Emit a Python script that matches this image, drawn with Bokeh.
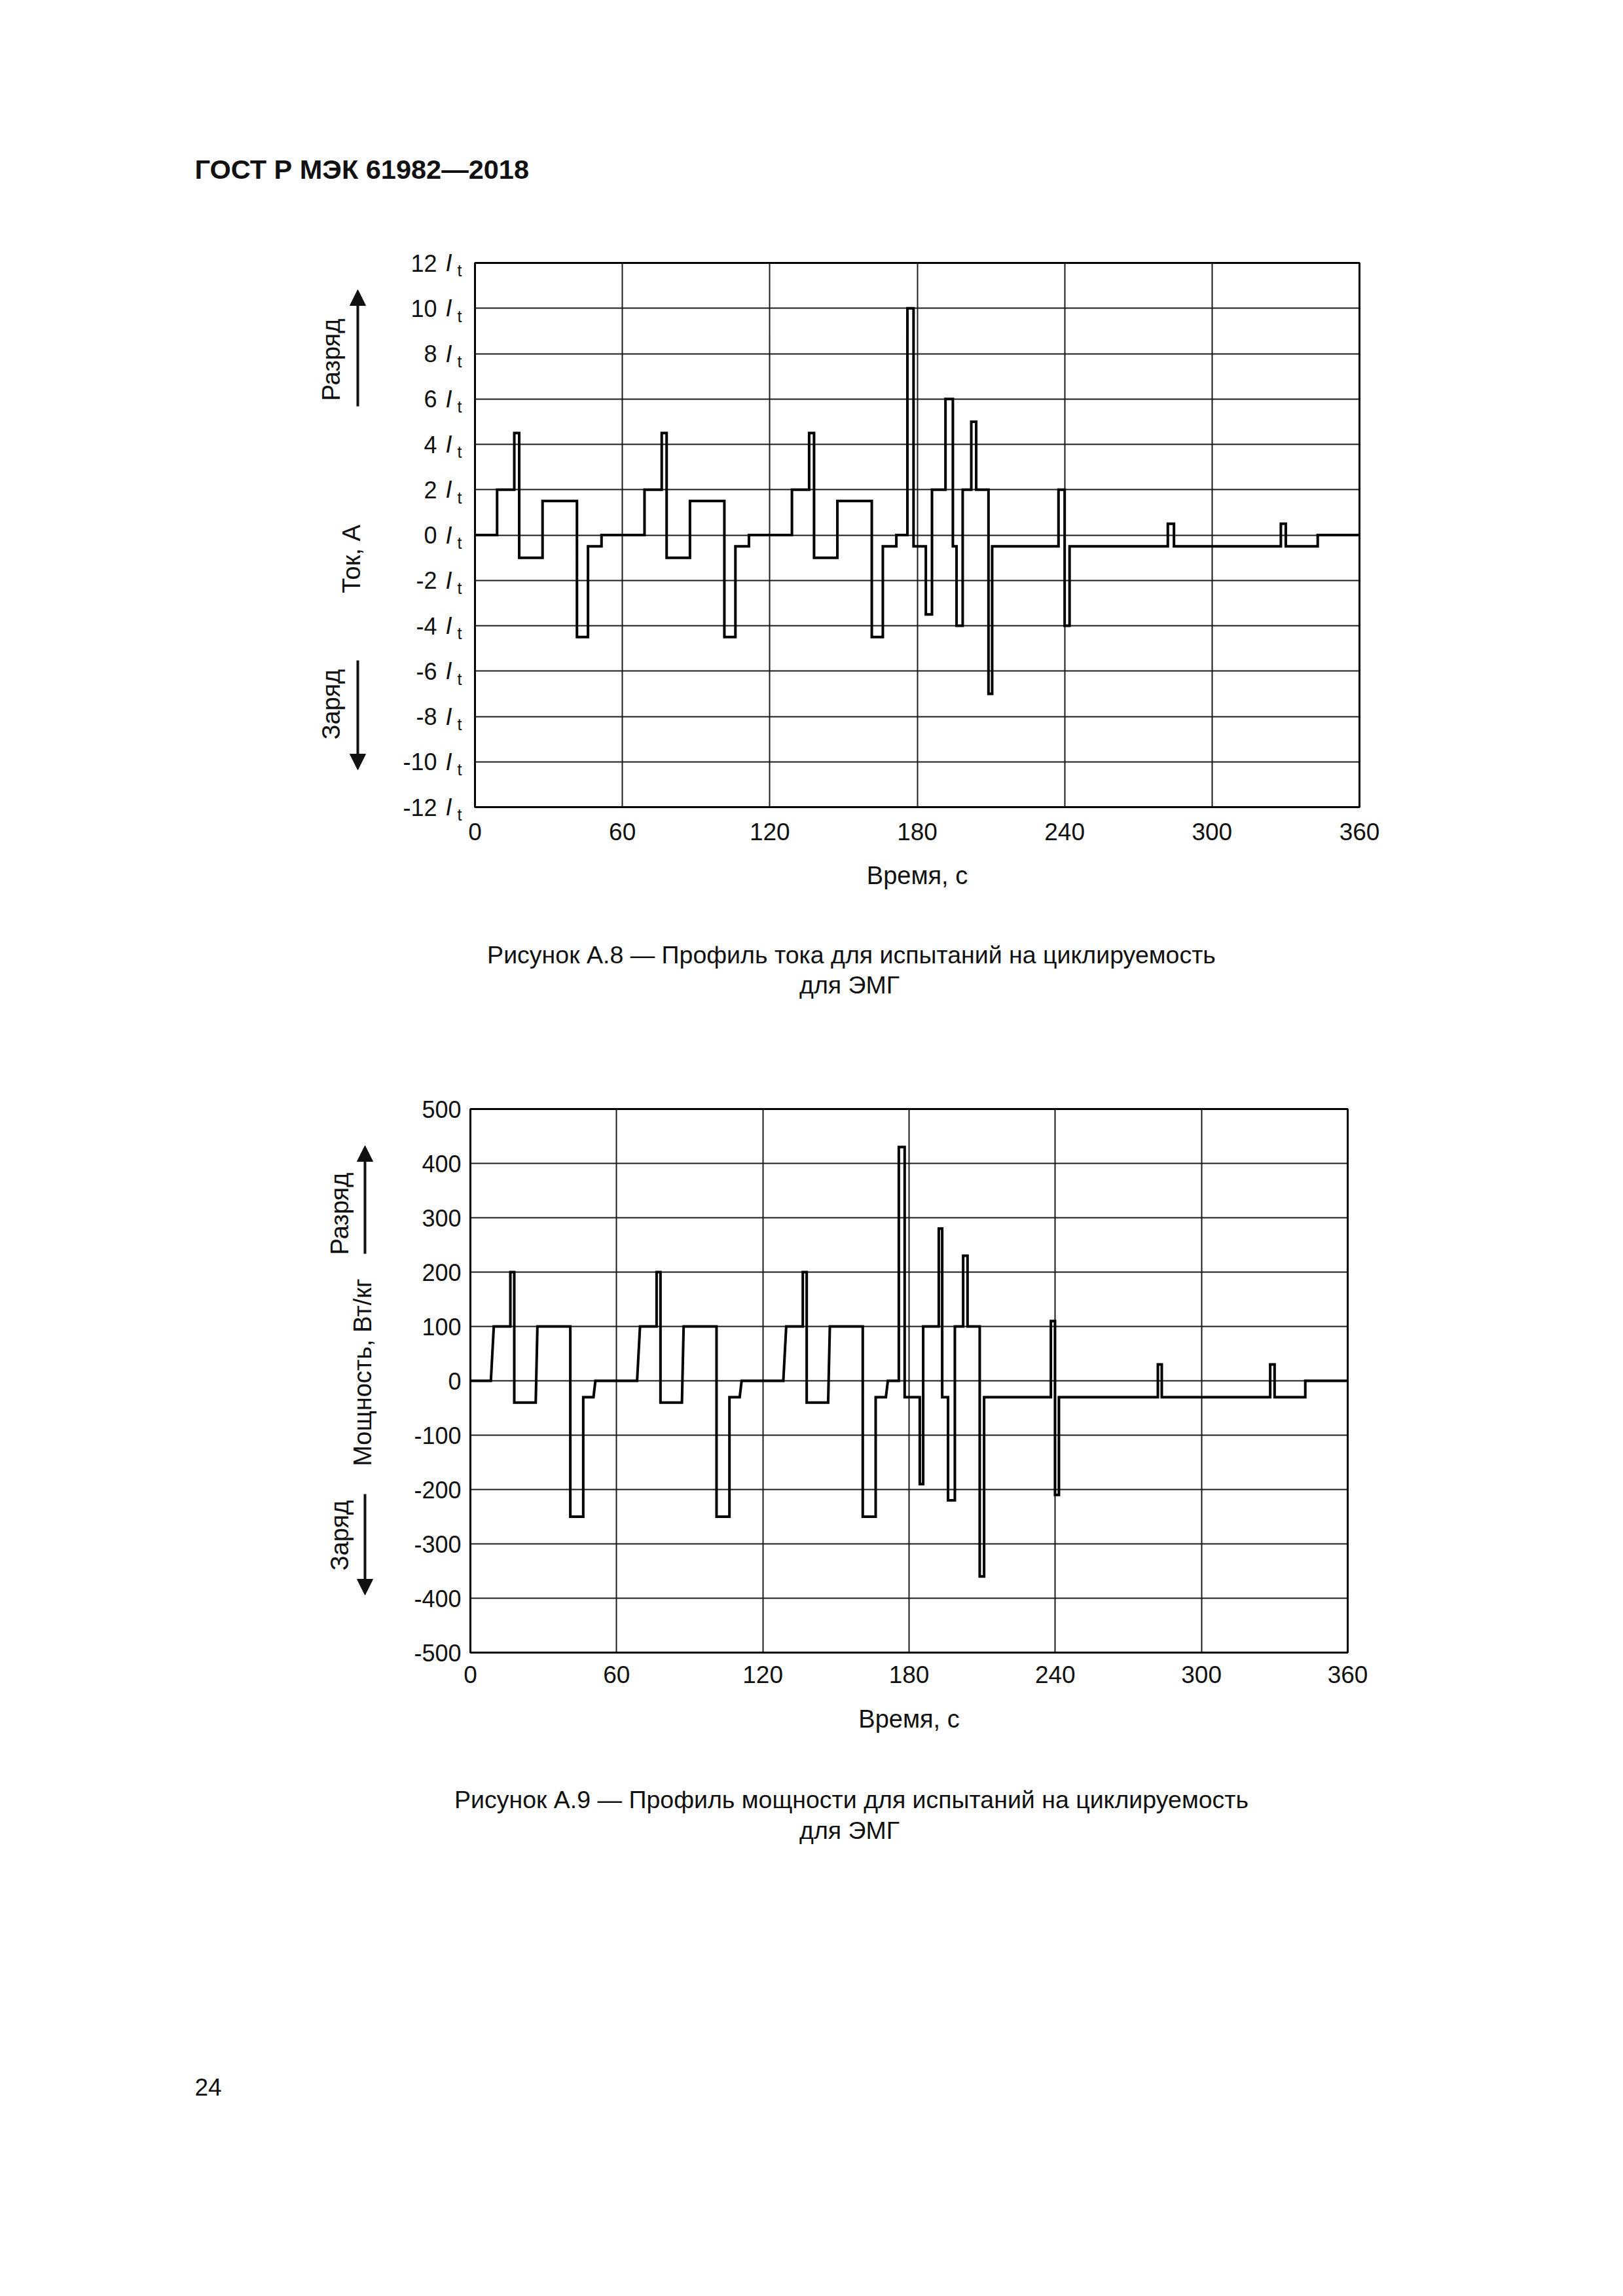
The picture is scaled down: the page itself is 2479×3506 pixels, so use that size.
import math
from bokeh.plotting import figure
from bokeh.models import Range1d, FixedTicker, Arrow, NormalHead, LinearAxis
from bokeh.core.properties import value
from bokeh.layouts import column, row
from bokeh.embed import file_html
from bokeh.resources import INLINE

FONT = "Liberation Sans"
INK = "#111111"

# ---------------- data: Figure A.8, current profile (multiples of I_t) ----------------
# step changes: value holds from current_t[i] until current_t[i+1]
current_t = [0, 9, 16, 18, 27.5, 41.5, 46, 51.5,
             69, 76, 78, 87.5, 101.5, 106, 111.5,
             129, 136, 138, 147.5, 161.5, 166, 171.5,
             176, 178.5, 183.5, 186, 191.5, 194.5, 196, 198.5, 202, 204, 209, 210.5,
             237.5, 240, 242, 282, 284.5, 328, 330, 343, 360]
current_v = [0, 2, 4.5, -1, 1.5, -4.5, -0.5, 0,
             2, 4.5, -1, 1.5, -4.5, -0.5, 0,
             2, 4.5, -1, 1.5, -4.5, -0.5, 0,
             10, -0.5, -3.5, 2, 6, -0.5, -4, 2, 5, 2, -7, -0.5,
             2, -4, -0.5, 0.5, -0.5, 0.5, -0.5, 0, 0]
current_ticks = [-12, -10, -8, -6, -4, -2, 0, 2, 4, 6, 8, 10, 12]

# ---------------- data: Figure A.9, power profile (W/kg) ----------------
# plateaus: (start, end, level); consecutive plateaus are joined by straight lines
power_start = [0, 9.6, 16.4, 18, 27.5, 41, 46.3, 51.3,
               69.6, 76.4, 78, 87.5, 101, 106.3, 111.3,
               129.6, 136.4, 138, 147.5, 161, 166.3, 171.3,
               175.8, 178.2, 184.4, 185.8, 192.2, 193.6, 196, 198.8, 202.2, 204, 209, 210.8,
               238.2, 239.9, 241.5, 282.1, 283.7, 328.2, 330, 342.6]
power_end = [8.4, 16.4, 18, 26.8, 41, 46.3, 50.5, 68.4,
             76.4, 78, 86.8, 101, 106.3, 110.5, 128.4,
             136.4, 138, 146.8, 161, 166.3, 170.5, 175.8,
             178.2, 184.4, 185.8, 192.2, 193.6, 196, 198.8, 202.2, 204, 209, 210.8, 238.2,
             239.9, 241.5, 282.1, 283.7, 328.2, 330, 342.6, 360]
power_level = [0, 100, 200, -40, 100, -250, -30, 0,
               100, 200, -40, 100, -250, -30, 0,
               100, 200, -40, 100, -250, -30, 0,
               430, -30, -190, 100, 280, -30, -220, 100, 230, 100, -360, -30,
               110, -210, -30, 30, -30, 30, -30, 0]
power_ticks = [-500, -400, -300, -200, -100, 0, 100, 200, 300, 400, 500]

time_ticks = [0, 60, 120, 180, 240, 300, 360]

# ---------------- page geometry (page pixels) ----------------
PL, PR = 0, 2471
ROW_A = (0, 360)                  # header
ROW_B = (360, 1380)               # chart 1
ROW_C = (1380, 1600)              # caption 1
ROW_D = (1600, 2680)              # chart 2
ROW_E = (2680, 3490)              # caption 2 + page number

F1L, F1R, F1T, F1B = 725, 2076, 401, 1232   # frame of chart 1
F2L, F2R, F2T, F2B = 718, 2058, 1693, 2523  # frame of chart 2
SPLIT = 600                                  # left label strip | chart


def Y1(py):
    return 12 - (py - F1T) * 24.0 / (F1B - F1T)


def Y2(py):
    return 500 - (py - F2T) * 1000.0 / (F2B - F2T)


def blank_fig(x0, x1, yr, top, bottom, bt=0, bb=0):
    p = figure(width=x1 - x0, height=bottom - top, x_range=Range1d(x0, x1), y_range=yr,
               output_backend="svg", toolbar_location=None,
               min_border_left=0, min_border_right=0, min_border_top=bt, min_border_bottom=bb)
    p.axis.visible = False
    p.grid.visible = False
    p.outline_line_color = None
    p.background_fill_color = "white"
    p.border_fill_color = "white"
    return p


def page_fig(rowspan):
    top, bottom = rowspan
    return blank_fig(PL, PR, Range1d(bottom, top), top, bottom)


def txt(p, xs, ys, texts, size, align="center", angle=0.0, style="normal"):
    p.text(x=xs, y=ys, text=texts, text_font=value(FONT), text_font_size=value(size),
           text_color=INK, text_align=align, text_baseline="middle", angle=angle,
           text_font_style=style)


def arrow(p, x0, y0, x1, y1):
    p.add_layout(Arrow(x_start=x0, y_start=y0, x_end=x1, y_end=y1, line_width=4,
                       line_color=INK,
                       end=NormalHead(size=24, fill_color=INK, line_color=INK, line_width=1)))


def style_axis(ax, size):
    ax.axis_line_color = None
    ax.major_tick_line_color = None
    ax.minor_tick_line_color = None
    ax.major_tick_out = 0
    ax.major_tick_in = 0
    ax.major_label_text_font = FONT
    ax.major_label_text_color = INK
    ax.major_label_text_font_size = size
    ax.axis_label_text_font = FONT
    ax.axis_label_text_font_style = "normal"
    ax.axis_label_text_color = INK


def chart_fig(rowspan, fl, fr, ft, fb, yr):
    top, bottom = rowspan
    p = figure(width=PR - SPLIT, height=bottom - top,
               x_range=Range1d(0, 360), y_range=yr,
               output_backend="svg", toolbar_location=None,
               min_border_left=fl - SPLIT, min_border_right=PR - fr,
               min_border_top=ft - top, min_border_bottom=bottom - fb)
    p.background_fill_color = "white"
    p.border_fill_color = "white"
    p.outline_line_color = "black"
    p.outline_line_width = 3
    style_axis(p.xaxis[0], "37px")
    style_axis(p.yaxis[0], "36px")
    p.xaxis.ticker = FixedTicker(ticks=time_ticks)
    p.xgrid.ticker = FixedTicker(ticks=time_ticks)
    for g in (p.xgrid, p.ygrid):
        g.grid_line_color = "#1a1a1a"
        g.grid_line_width = 2
        g.grid_line_alpha = 1
    p.xaxis.axis_label = "Время, с"
    p.xaxis.axis_label_text_font_size = "38px"
    return p


# ======================= header =======================
pa = page_fig(ROW_A)
txt(pa, [297], [258], ["ГОСТ Р МЭК 61982—2018"], "41.5px", align="left", style="bold")

# ======================= chart 1: current =======================
yr1 = Range1d(-12, 12)
p1 = chart_fig(ROW_B, F1L, F1R, F1T, F1B, yr1)
p1.ygrid.ticker = FixedTicker(ticks=current_ticks)
p1.xaxis.major_label_standoff = 24
p1.xaxis.axis_label_standoff = 30
# y tick labels "N I_t" built from three stacked axes: subscript t, italic I, number
ax_t = p1.yaxis[0]
ax_t.ticker = FixedTicker(ticks=current_ticks)
ax_t.major_label_overrides = {v: "\nt" for v in current_ticks}
ax_t.major_label_text_font_size = "25px"
ax_t.major_label_text_line_height = 0.85
ax_t.major_label_standoff = 20
ax_i = LinearAxis(ticker=FixedTicker(ticks=current_ticks),
                  major_label_overrides={v: "I" for v in current_ticks})
style_axis(ax_i, "36px")
ax_i.major_label_text_font_style = "italic"
ax_i.major_label_standoff = 5
p1.add_layout(ax_i, "left")
ax_n = LinearAxis(ticker=FixedTicker(ticks=current_ticks),
                  major_label_overrides={v: str(v) for v in current_ticks})
style_axis(ax_n, "36px")
ax_n.major_label_standoff = 10
p1.add_layout(ax_n, "left")

p1.step(current_t, current_v, mode="after", line_color="black", line_width=4,
        line_join="miter")

# left strip of chart 1 (frame aligned with the chart frame): axis title, arrows
l1 = blank_fig(PL, SPLIT, yr1, ROW_B[0], ROW_B[1], bt=F1T - ROW_B[0], bb=ROW_B[1] - F1B)
txt(l1, [505], [Y1(549)], ["Разряд"], "38px", angle=math.pi / 2)
txt(l1, [536], [Y1(853)], ["Ток, А"], "38px", angle=math.pi / 2)
txt(l1, [505], [Y1(1075)], ["Заряд"], "38px", angle=math.pi / 2)
arrow(l1, 546, Y1(620), 546, Y1(442))
arrow(l1, 546, Y1(1008), 546, Y1(1175))

# ======================= caption 1 =======================
pc = page_fig(ROW_C)
txt(pc, [1300, 1297], [1457, 1503],
    ["Рисунок А.8 — Профиль тока для испытаний на циклируемость", "для ЭМГ"], "37.5px")

# ======================= chart 2: power =======================
yr2 = Range1d(-500, 500)
p2 = chart_fig(ROW_D, F2L, F2R, F2T, F2B, yr2)
p2.yaxis.ticker = FixedTicker(ticks=power_ticks)
p2.ygrid.ticker = FixedTicker(ticks=power_ticks)
p2.yaxis.major_label_overrides = {v: str(v) for v in power_ticks}
p2.yaxis.major_label_standoff = 14
p2.xaxis.major_label_standoff = 20
p2.xaxis.axis_label_standoff = 31

px, py = [], []
for s, e, v in zip(power_start, power_end, power_level):
    px += [s, e]
    py += [v, v]
p2.line(px, py, line_color="black", line_width=4, line_join="miter")

l2 = blank_fig(PL, SPLIT, yr2, ROW_D[0], ROW_D[1], bt=F2T - ROW_D[0], bb=ROW_D[1] - F2B)
txt(l2, [518], [Y2(1853)], ["Разряд"], "38px", angle=math.pi / 2)
txt(l2, [553], [Y2(2095)], ["Мощность, Вт/кг"], "38px", angle=math.pi / 2)
txt(l2, [518], [Y2(2344)], ["Заряд"], "38px", angle=math.pi / 2)
arrow(l2, 557, Y2(1914), 557, Y2(1749))
arrow(l2, 557, Y2(2281), 557, Y2(2435))

# ======================= caption 2 + page number =======================
pe = page_fig(ROW_E)
txt(pe, [1300, 1297], [2747, 2794],
    ["Рисунок А.9 — Профиль мощности для испытаний на циклируемость", "для ЭМГ"], "37.5px")
txt(pe, [297], [3186], ["24"], "37px", align="left")

page = column(pa, row(l1, p1, spacing=0), pc, row(l2, p2, spacing=0), pe, spacing=0)
open("out.html", "w").write(file_html(page, INLINE, title="ГОСТ Р МЭК 61982—2018"))
